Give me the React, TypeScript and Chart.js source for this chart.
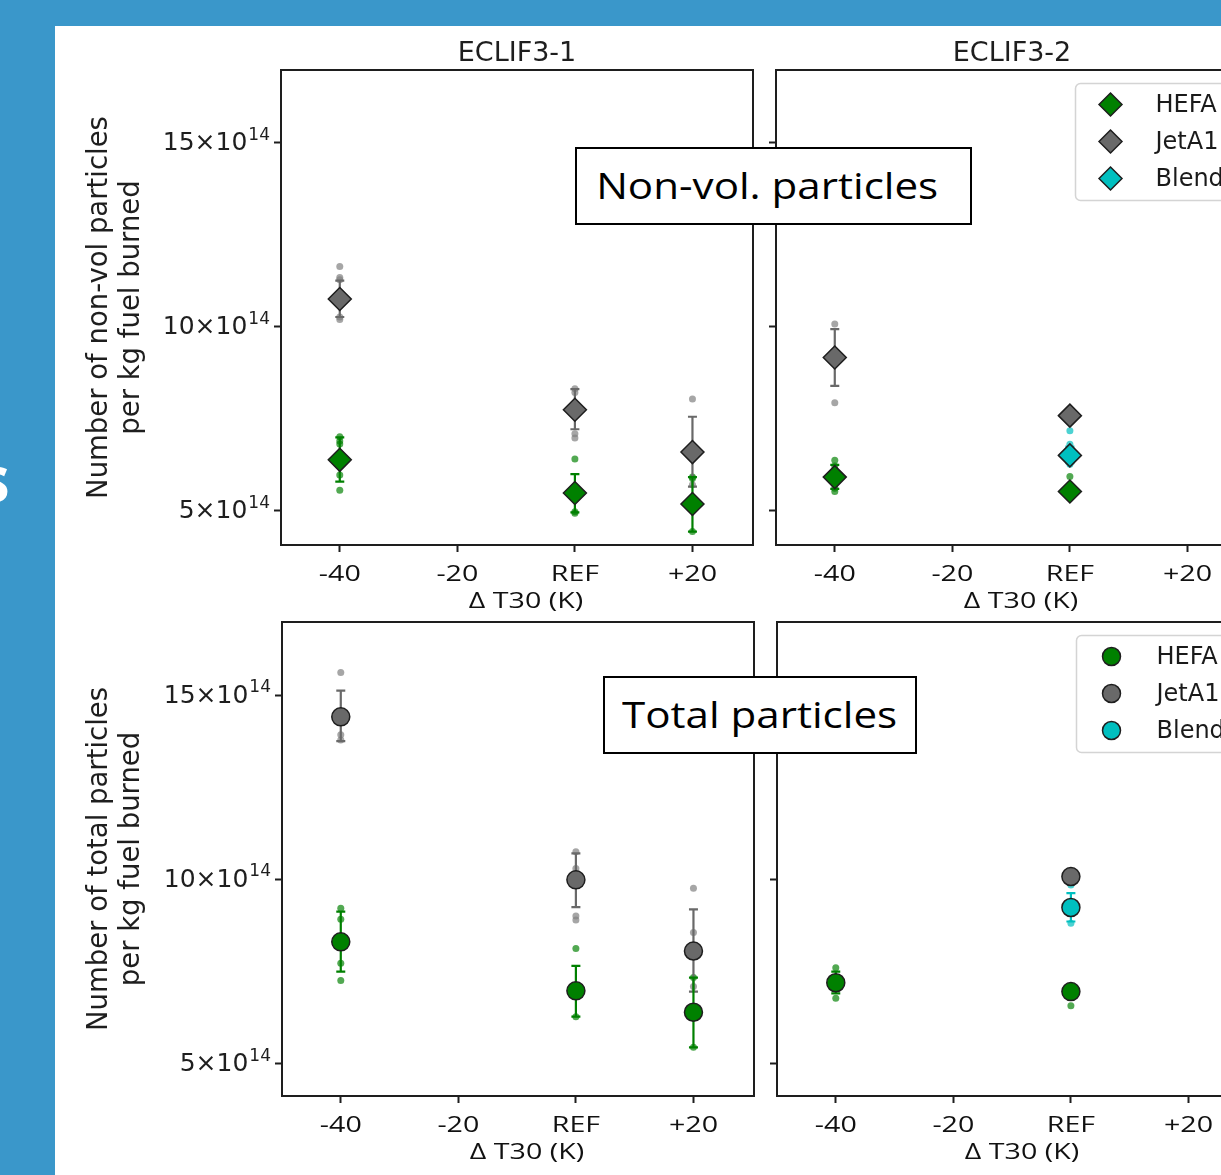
import React, { useEffect, useRef } from 'react';
import { Chart, registerables } from 'chart.js';

Chart.register(...registerables);

// ---------- text / ticks ----------
const X_TICKS = [-40, -20, 0, 20];
const X_TICK_LABELS = ['-40', '-20', 'REF', '+20'];
const Y_TICKS = [5, 10, 15];
const Y_TICK_MANTISSA = ['5×10', '10×10', '15×10'];
const Y_TICK_EXPONENT = '14';
const FUELS = ['HEFA', 'JetA1', 'Blend'];
const PANEL_TITLES = ['ECLIF3-1', 'ECLIF3-2'];
const X_TITLE = 'Δ T30 (K)';
const Y_TITLE_NONVOL = ['Number of non-vol particles', 'per kg fuel burned'];
const Y_TITLE_TOTAL = ['Number of total particles', 'per kg fuel burned'];
const BOX_LABELS = ['Non-vol. particles', 'Total particles'];

// ---------- data (units of 10^14 particles per kg fuel burned) ----------
// Non-volatile, ECLIF3-1
const NV1_HEFA_X = [-40, 0, 20];
const NV1_HEFA_MEAN = [6.39, 5.49, 5.19];
const NV1_HEFA_LOW = [5.8, 4.96, 4.44];
const NV1_HEFA_HIGH = [7.0, 6.0, 5.92];
const NV1_HEFA_RUNS = [[7.02, 6.9, 6.82, 5.98, 5.56], [6.41, 4.98, 4.94], [5.92, 5.88, 4.44]];
const NV1_JET_X = [-40, 0, 20];
const NV1_JET_MEAN = [10.76, 7.75, 6.6];
const NV1_JET_LOW = [10.27, 7.22, 5.66];
const NV1_JET_HIGH = [11.26, 8.31, 7.56];
const NV1_JET_RUNS = [[11.64, 11.34, 11.28, 10.27, 10.2], [8.32, 8.22, 7.1, 6.98], [8.04, 6.66, 5.71]];

// Non-volatile, ECLIF3-2
const NV2_HEFA_X = [-40, 0];
const NV2_HEFA_MEAN = [5.92, 5.53];
const NV2_HEFA_LOW = [5.6, 5.42];
const NV2_HEFA_HIGH = [6.25, 5.64];
const NV2_HEFA_RUNS = [[6.38, 6.22, 5.62, 5.53], [5.94, 5.42]];
const NV2_JET_X = [-40, 0];
const NV2_JET_MEAN = [9.17, 7.59];
const NV2_JET_LOW = [8.4, 7.48];
const NV2_JET_HIGH = [9.94, 7.7];
const NV2_JET_RUNS = [[10.08, 7.94], [7.7, 7.5]];
const NV2_BLEND_X = [0];
const NV2_BLEND_MEAN = [6.51];
const NV2_BLEND_LOW = [6.3];
const NV2_BLEND_HIGH = [6.75];
const NV2_BLEND_RUNS = [[7.18, 6.81, 6.27]];

// Total, ECLIF3-1
const TP1_HEFA_X = [-40, 0, 20];
const TP1_HEFA_MEAN = [8.31, 6.98, 6.4];
const TP1_HEFA_LOW = [7.5, 6.28, 5.45];
const TP1_HEFA_HIGH = [9.13, 7.66, 7.34];
const TP1_HEFA_RUNS = [[9.22, 8.92, 7.73, 7.26], [8.13, 6.28], [7.34, 5.45]];
const TP1_JET_X = [-40, 0, 20];
const TP1_JET_MEAN = [14.41, 9.99, 8.06];
const TP1_JET_LOW = [13.75, 9.25, 6.96];
const TP1_JET_HIGH = [15.12, 10.71, 9.19];
const TP1_JET_RUNS = [[15.61, 13.92, 13.78], [10.75, 10.3, 9.01, 8.9], [9.76, 8.56, 7.1]];

// Total, ECLIF3-2
const TP2_HEFA_X = [-40, 0];
const TP2_HEFA_MEAN = [7.2, 6.96];
const TP2_HEFA_LOW = [6.91, 6.9];
const TP2_HEFA_HIGH = [7.5, 7.02];
const TP2_HEFA_RUNS = [[7.61, 6.78], [6.58]];
const TP2_JET_X = [0];
const TP2_JET_MEAN = [10.08];
const TP2_JET_LOW = [10.03];
const TP2_JET_HIGH = [10.13];
const TP2_JET_RUNS = [[10.02]];
const TP2_BLEND_X = [0];
const TP2_BLEND_MEAN = [9.24];
const TP2_BLEND_LOW = [8.86];
const TP2_BLEND_HIGH = [9.63];
const TP2_BLEND_RUNS = [[9.85, 8.81]];

// ---------- styles ----------
const COLORS: Record<string, string> = { HEFA: '#008000', JetA1: '#696969', Blend: '#00BFBF' };
const RUN_COLORS: Record<string, string> = {
  HEFA: 'rgba(0,128,0,0.68)',
  JetA1: 'rgba(128,128,128,0.7)',
  Blend: 'rgba(0,191,191,0.7)',
};
const BLUE = '#3A97CA';
const INK = '#1e1e1e';
const DV = "'DejaVu Sans', sans-serif";
const OS = "'Open Sans', sans-serif";
const X_STRETCH = 1.3;
const X_TITLE_SHIFT = 9;

type Series = { fuel: string; x: number[]; mean: number[]; low: number[]; high: number[]; runs: number[][] };
const S = (fuel: string, x: number[], mean: number[], low: number[], high: number[], runs: number[][]): Series => ({
  fuel, x, mean, low, high, runs,
});

type PanelSpec = {
  key: string;
  left: number; top: number; w: number; h: number;
  yAxisWidth: number; xAxisHeight: number; padTop: number;
  title?: string; yTitle?: string[]; showYLabels: boolean;
  yMin: number; yMax: number;
  marker: 'rectRot' | 'circle';
  series: Series[];
  legend: boolean;
  labelPad: number; titleBottom: number;
};

const PANELS: PanelSpec[] = [
  {
    key: 'tl', left: 0, top: 0, w: 755, h: 625, yAxisWidth: 281, xAxisHeight: 80, padTop: 38,
    title: PANEL_TITLES[0], yTitle: Y_TITLE_NONVOL, showYLabels: true, yMin: 4.076, yMax: 16.98,
    marker: 'rectRot', legend: false, labelPad: 10, titleBottom: 10,
    series: [
      S(FUELS[0], NV1_HEFA_X, NV1_HEFA_MEAN, NV1_HEFA_LOW, NV1_HEFA_HIGH, NV1_HEFA_RUNS),
      S(FUELS[1], NV1_JET_X, NV1_JET_MEAN, NV1_JET_LOW, NV1_JET_HIGH, NV1_JET_RUNS),
    ],
  },
  {
    key: 'tr', left: 760, top: 0, w: 490, h: 625, yAxisWidth: 16, xAxisHeight: 80, padTop: 38,
    title: PANEL_TITLES[1], showYLabels: false, yMin: 4.076, yMax: 16.98,
    marker: 'rectRot', legend: true, labelPad: 10, titleBottom: 10,
    series: [
      S(FUELS[0], NV2_HEFA_X, NV2_HEFA_MEAN, NV2_HEFA_LOW, NV2_HEFA_HIGH, NV2_HEFA_RUNS),
      S(FUELS[1], NV2_JET_X, NV2_JET_MEAN, NV2_JET_LOW, NV2_JET_HIGH, NV2_JET_RUNS),
      S(FUELS[2], NV2_BLEND_X, NV2_BLEND_MEAN, NV2_BLEND_LOW, NV2_BLEND_HIGH, NV2_BLEND_RUNS),
    ],
  },
  {
    key: 'bl', left: 0, top: 600, w: 756, h: 575, yAxisWidth: 282, xAxisHeight: 79, padTop: 22,
    yTitle: Y_TITLE_TOTAL, showYLabels: true, yMin: 4.13, yMax: 16.98,
    marker: 'circle', legend: false, labelPad: 10, titleBottom: 9,
    series: [
      S(FUELS[0], TP1_HEFA_X, TP1_HEFA_MEAN, TP1_HEFA_LOW, TP1_HEFA_HIGH, TP1_HEFA_RUNS),
      S(FUELS[1], TP1_JET_X, TP1_JET_MEAN, TP1_JET_LOW, TP1_JET_HIGH, TP1_JET_RUNS),
    ],
  },
  {
    key: 'br', left: 761, top: 600, w: 490, h: 575, yAxisWidth: 16, xAxisHeight: 79, padTop: 22,
    showYLabels: false, yMin: 4.13, yMax: 16.98,
    marker: 'circle', legend: true, labelPad: 10, titleBottom: 9,
    series: [
      S(FUELS[0], TP2_HEFA_X, TP2_HEFA_MEAN, TP2_HEFA_LOW, TP2_HEFA_HIGH, TP2_HEFA_RUNS),
      S(FUELS[1], TP2_JET_X, TP2_JET_MEAN, TP2_JET_LOW, TP2_JET_HIGH, TP2_JET_RUNS),
      S(FUELS[2], TP2_BLEND_X, TP2_BLEND_MEAN, TP2_BLEND_LOW, TP2_BLEND_HIGH, TP2_BLEND_RUNS),
    ],
  },
];

// ---------- plugins ----------
const framePlugin = {
  id: 'frame',
  afterDraw(chart: any) {
    const { ctx, chartArea: a } = chart;
    ctx.save();
    ctx.strokeStyle = INK;
    ctx.lineWidth = 2;
    ctx.strokeRect(a.left, a.top, a.right - a.left, a.bottom - a.top);
    ctx.restore();
  },
};

const errorBarPlugin = {
  id: 'errbars',
  beforeDatasetDraw(chart: any, args: any) {
    const ds = chart.data.datasets[args.index];
    if (!ds || !ds.errLow) return;
    const xs = chart.scales.x;
    const ys = chart.scales.y;
    const ctx = chart.ctx;
    ctx.save();
    ctx.strokeStyle = ds.errColor;
    ctx.lineWidth = 2.2;
    ds.data.forEach((p: any, i: number) => {
      const px = xs.getPixelForValue(p.x);
      const y1 = ys.getPixelForValue(ds.errLow[i]);
      const y2 = ys.getPixelForValue(ds.errHigh[i]);
      ctx.beginPath();
      ctx.moveTo(px, y1);
      ctx.lineTo(px, y2);
      ctx.moveTo(px - 4.5, y1);
      ctx.lineTo(px + 4.5, y1);
      ctx.moveTo(px - 4.5, y2);
      ctx.lineTo(px + 4.5, y2);
      ctx.stroke();
    });
    ctx.restore();
  },
};

// Axis text rendering: the scale computes the label positions; these hooks only change how the glyphs are painted
// (x labels are horizontally wide-set in the reference, y labels carry a superscript exponent).
function makeAxisTextPlugin(titleBottom: number) {
  return {
    id: 'axistext',
    beforeDraw(chart: any) {
      const xs = chart.scales.x;
      if (xs && !xs.__patched) {
        xs.__patched = true;
        xs.drawLabels = (area: any) => {
          const c = chart.ctx;
          const items = xs.getLabelItems(area);
          c.save();
          c.fillStyle = '#111';
          c.font = `22px ${OS}`;
          c.textAlign = 'center';
          c.textBaseline = 'middle';
          items.forEach((it: any) => {
            const [tx, ty] = it.options.translation;
            c.save();
            c.translate(tx, ty);
            c.scale(X_STRETCH, 1);
            c.fillText(String(it.label), 0, it.textOffset || 0);
            c.restore();
          });
          c.restore();
        };
        xs.drawTitle = () => {
          const c = chart.ctx;
          const t = xs.options.title;
          if (!t || !t.display) return;
          c.save();
          c.fillStyle = '#111';
          c.font = `22px ${OS}`;
          c.textAlign = 'center';
          c.textBaseline = 'middle';
          c.translate((xs.left + xs.right) / 2 + X_TITLE_SHIFT, xs.bottom - titleBottom - 13);
          c.scale(X_STRETCH, 1);
          c.fillText(String(t.text), 0, 0);
          c.restore();
        };
      }
      const ys = chart.scales.y;
      if (ys && !ys.__patched) {
        ys.__patched = true;
        ys.drawLabels = (area: any) => {
          if (!ys.options.ticks.display) return;
          const c = chart.ctx;
          const items = ys.getLabelItems(area);
          c.save();
          c.fillStyle = INK;
          items.forEach((it: any, i: number) => {
            const [tx, ty] = it.options.translation;
            const idx = Y_TICKS.indexOf(ys.ticks[i] ? ys.ticks[i].value : NaN);
            if (idx < 0) return;
            c.font = `17px ${DV}`;
            const supW = c.measureText(Y_TICK_EXPONENT).width;
            c.textAlign = 'right';
            c.textBaseline = 'alphabetic';
            c.fillText(Y_TICK_EXPONENT, tx, ty - 3);
            c.font = `25px ${DV}`;
            c.textBaseline = 'middle';
            c.fillText(Y_TICK_MANTISSA[idx], tx - supW - 1, ty + 1);
          });
          c.restore();
        };
      }
    },
  };
}

function drawMarker(ctx: CanvasRenderingContext2D, style: string, x: number, y: number, r: number, fill: string) {
  ctx.beginPath();
  if (style === 'rectRot') {
    ctx.moveTo(x - r, y);
    ctx.lineTo(x, y - r);
    ctx.lineTo(x + r, y);
    ctx.lineTo(x, y + r);
    ctx.closePath();
  } else {
    ctx.arc(x, y, r, 0, Math.PI * 2);
  }
  ctx.fillStyle = fill;
  ctx.fill();
  ctx.strokeStyle = INK;
  ctx.lineWidth = 1.5;
  ctx.stroke();
}

function makeLegendPlugin(style: string, labels: string[], radius: number) {
  return {
    id: 'boxlegend',
    afterDraw(chart: any) {
      const { ctx, chartArea: a } = chart;
      const left = a.left + 299.5;
      const top = a.top + 13.5;
      const w = 180;
      const h = 117;
      const r = 5;
      ctx.save();
      ctx.beginPath();
      ctx.moveTo(left + r, top);
      ctx.arcTo(left + w, top, left + w, top + h, r);
      ctx.arcTo(left + w, top + h, left, top + h, r);
      ctx.arcTo(left, top + h, left, top, r);
      ctx.arcTo(left, top, left + w, top, r);
      ctx.closePath();
      ctx.fillStyle = 'rgba(255,255,255,0.85)';
      ctx.fill();
      ctx.strokeStyle = '#d4d4d4';
      ctx.lineWidth = 1.5;
      ctx.stroke();
      const rows = [21, 58, 95];
      labels.forEach((lab, i) => {
        const cy = top + rows[i];
        drawMarker(ctx, style, left + 35, cy, radius, COLORS[lab]);
        ctx.fillStyle = '#1a1a1a';
        ctx.font = `24px ${DV}`;
        ctx.textBaseline = 'middle';
        ctx.textAlign = 'left';
        ctx.fillText(lab, left + 80, cy + 1);
      });
      ctx.restore();
    },
  };
}

function buildConfig(p: PanelSpec): any {
  const meanRadius = p.marker === 'rectRot' ? 11.5 : 9;
  const datasets: any[] = [];
  p.series.forEach((s) => {
    datasets.push({
      type: 'scatter',
      label: s.fuel,
      data: s.x.map((xv, i) => ({ x: xv, y: s.mean[i] })),
      pointStyle: p.marker,
      pointRadius: meanRadius,
      pointHoverRadius: meanRadius,
      backgroundColor: COLORS[s.fuel],
      borderColor: INK,
      borderWidth: 1.5,
      order: 0,
      errLow: s.low,
      errHigh: s.high,
      errColor: COLORS[s.fuel],
    });
  });
  p.series.forEach((s) => {
    datasets.push({
      type: 'scatter',
      label: s.fuel + ' runs',
      data: s.runs.flatMap((vals, i) => vals.map((v) => ({ x: s.x[i], y: v }))),
      pointStyle: 'circle',
      pointRadius: 3.5,
      pointHoverRadius: 3.5,
      backgroundColor: RUN_COLORS[s.fuel],
      borderWidth: 0,
      order: 1,
    });
  });

  const tickGrid = {
    display: true,
    drawOnChartArea: false,
    drawTicks: true,
    tickLength: 7,
    tickWidth: 2,
    tickColor: INK,
  };

  const plugins: any[] = [framePlugin, errorBarPlugin, makeAxisTextPlugin(p.titleBottom)];
  if (p.legend) plugins.push(makeLegendPlugin(p.marker, p.series.map((s) => s.fuel), p.marker === 'rectRot' ? 11.5 : 9));

  return {
    type: 'scatter',
    data: { datasets },
    plugins,
    options: {
      responsive: false,
      animation: false,
      events: [],
      layout: { autoPadding: false, padding: { top: p.padTop, right: 2, bottom: 0, left: 0 } },
      plugins: {
        legend: { display: false },
        tooltip: { enabled: false },
        title: {
          display: !!p.title,
          text: p.title || '',
          fullSize: false,
          color: INK,
          padding: 0,
          font: { family: DV, size: 27, weight: 'normal', lineHeight: '32px' },
        },
      },
      scales: {
        x: {
          type: 'linear',
          min: -50,
          max: 30.3,
          afterBuildTicks: (sc: any) => {
            sc.ticks = X_TICKS.map((v) => ({ value: v }));
          },
          afterFit: (sc: any) => {
            sc.height = p.xAxisHeight;
            sc.paddingLeft = 0;
            sc.paddingRight = 0;
          },
          ticks: {
            autoSkip: false,
            maxRotation: 0,
            padding: p.labelPad,
            color: '#111',
            font: { family: OS, size: 22, lineHeight: '26px' },
            callback: (v: any) => {
              const i = X_TICKS.indexOf(Number(v));
              return i >= 0 ? X_TICK_LABELS[i] : '';
            },
          },
          grid: tickGrid,
          border: { display: false },
          title: {
            display: true,
            text: X_TITLE,
            color: '#111',
            padding: { top: 0, bottom: p.titleBottom },
            font: { family: OS, size: 22, lineHeight: '26px' },
          },
        },
        y: {
          type: 'linear',
          min: p.yMin,
          max: p.yMax,
          afterBuildTicks: (sc: any) => {
            sc.ticks = Y_TICKS.map((v) => ({ value: v }));
          },
          afterFit: (sc: any) => {
            sc.width = p.yAxisWidth;
            sc.paddingTop = 0;
            sc.paddingBottom = 0;
          },
          ticks: {
            display: p.showYLabels,
            autoSkip: false,
            padding: 4,
            color: INK,
            font: { family: DV, size: 25 },
            callback: (v: any) => {
              const i = Y_TICKS.indexOf(Number(v));
              return i >= 0 ? Y_TICK_MANTISSA[i] + '¹⁴' : '';
            },
          },
          grid: tickGrid,
          border: { display: false },
          title: {
            display: !!p.yTitle,
            text: p.yTitle || '',
            color: INK,
            padding: { top: 84, bottom: 0 },
            font: { family: DV, size: 27.5, lineHeight: '32px' },
          },
        },
      },
    },
  };
}

function Panel({ spec }: { spec: PanelSpec }) {
  const ref = useRef<HTMLCanvasElement>(null);
  useEffect(() => {
    if (!ref.current) return;
    const chart = new Chart(ref.current, buildConfig(spec));
    return () => chart.destroy();
  }, [spec]);
  return (
    <canvas
      ref={ref}
      width={spec.w}
      height={spec.h}
      style={{ position: 'absolute', left: spec.left, top: spec.top, width: spec.w, height: spec.h, display: 'block' }}
    />
  );
}

function LabelBox({ text, left, top, width, height, shift }: { text: string; left: number; top: number; width: number; height: number; shift: number }) {
  return (
    <div
      style={{
        position: 'absolute',
        left,
        top,
        width,
        height,
        boxSizing: 'border-box',
        border: '2px solid #000',
        background: '#fff',
        display: 'flex',
        alignItems: 'center',
        justifyContent: 'center',
        paddingRight: shift,
      }}
    >
      <span
        style={{
          display: 'inline-block',
          fontFamily: OS,
          fontSize: 36,
          lineHeight: '44px',
          color: '#000',
          transform: 'scaleX(1.17)',
          whiteSpace: 'nowrap',
        }}
      >
        {text}
      </span>
    </div>
  );
}

export default function App() {
  return (
    <div style={{ position: 'fixed', left: 0, top: 0, width: 1221, height: 1175, overflow: 'hidden', background: BLUE }}>
      <div style={{ position: 'absolute', left: 55, top: 26, width: 1166, height: 1149, background: '#fff' }} />
      <div
        style={{
          position: 'absolute',
          left: -22,
          top: 446,
          fontFamily: OS,
          fontWeight: 700,
          fontSize: 64,
          lineHeight: '64px',
          color: '#fff',
        }}
      >
        s
      </div>
      {PANELS.map((p) => (
        <Panel key={p.key} spec={p} />
      ))}
      <LabelBox text={BOX_LABELS[0]} left={575} top={147} width={397} height={78} shift={12} />
      <LabelBox text={BOX_LABELS[1]} left={603} top={676} width={314} height={78} shift={0} />
    </div>
  );
}
